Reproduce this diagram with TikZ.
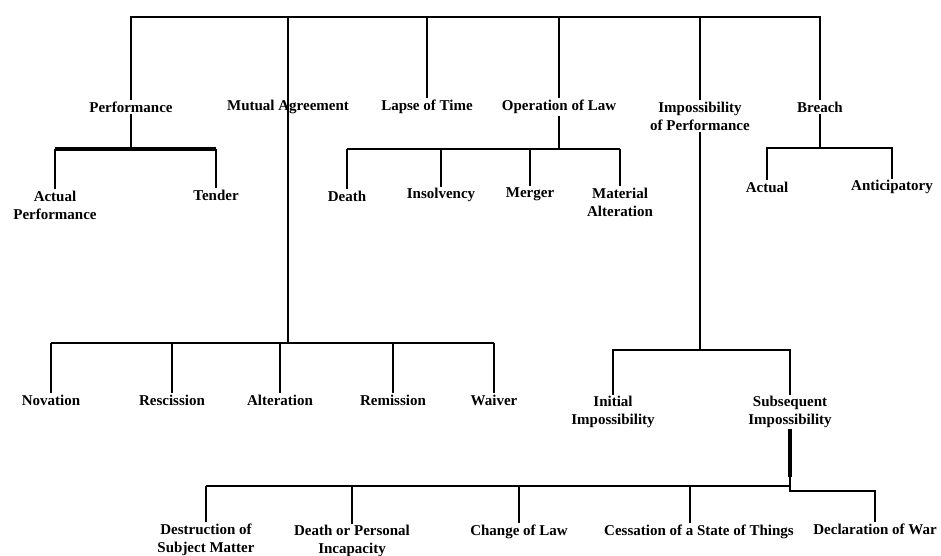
\documentclass[tikz,border=0pt]{standalone}
\usepackage{fontspec}
\setmainfont{Liberation Serif}
\begin{document}
\begin{tikzpicture}[x=1pt,y=-1pt,line width=1.3pt,
	lbl/.style={font=\fontsize{15}{18}\selectfont\bfseries,align=center,inner sep=1pt},
	heavy/.style={line width=3.2pt}]
	\useasboundingbox (0,0) rectangle (941,555);
	\node[lbl] (perf) at (131,107) {Performance};
	\node[lbl] (mutual) at (288,107) {Mutual Agreement};
	\node[lbl] (lapse) at (427,107) {Lapse of Time};
	\node[lbl] (oplaw) at (559,107) {Operation of Law};
	\node[lbl] (imposs) at (700,116) {Impossibility\\of Performance};
	\node[lbl] (breach) at (820,107) {Breach};
	\node[lbl] (actperf) at (55,205) {Actual\\Performance};
	\node[lbl] (tender) at (216,195) {Tender};
	\node[lbl] (novation) at (51,400) {Novation};
	\node[lbl] (rescission) at (172,400) {Rescission};
	\node[lbl] (alteration) at (280,400) {Alteration};
	\node[lbl] (remission) at (393,400) {Remission};
	\node[lbl] (waiver) at (494,400) {Waiver};
	\node[lbl] (death) at (347,196) {Death};
	\node[lbl] (insolvency) at (441,195) {Insolvency};
	\node[lbl] (merger) at (530,194) {Merger};
	\node[lbl] (matalt) at (620,202) {Material\\Alteration};
	\node[lbl] (actual) at (767,187) {Actual};
	\node[lbl] (anticip) at (892,187) {Anticipatory};
	\node[lbl] (initial) at (613,412) {Initial\\Impossibility};
	\node[lbl] (subs) at (790,412) {Subsequent\\Impossibility};
	\node[lbl] (destr) at (206,540) {Destruction of\\Subject Matter};
	\node[lbl] (deathpi) at (352,541) {Death or Personal\\Incapacity};
	\node[lbl] (change) at (519,532) {Change of Law};
	\node[lbl] (cess) at (699,532) {Cessation of a State of Things};
	\node[lbl] (declar) at (875,529) {Declaration of War};
	\coordinate (top) at (475,17);
	\coordinate (pbar) at (131,149);
	\coordinate (mbar) at (288,343);
	\coordinate (obar) at (559,149);
	\coordinate (bbar) at (820,148);
	\coordinate (ibar) at (700,350);
	\coordinate (sbar) at (790,486);
	\coordinate (cdrop) at ([xshift=-9pt]cess.north);
	\draw (perf.north) |- (top) -| (breach.north);
	\foreach \n in {lapse,oplaw,imposs}
	\draw (\n.north |- top) -- (\n.north);
	\draw (mutual.north |- top) -- (mbar);
	\draw (perf.south) -- (pbar);
	\draw[heavy] (actperf.north |- pbar) -- (tender.north |- pbar);
	\draw (actperf.north |- pbar) -- (actperf.north);
	\draw[line width=2pt] (tender.north |- pbar) -- (tender.north);
	\draw (novation.north |- mbar) -- (waiver.north |- mbar);
	\foreach \n in {novation,rescission,alteration,remission,waiver}
	\draw (\n.north |- mbar) -- (\n.north);
	\draw (oplaw.south) -- (obar);
	\draw (death.north |- obar) -- (matalt.north |- obar);
	\foreach \n in {death,insolvency,merger,matalt}
	\draw (\n.north |- obar) -- (\n.north);
	\draw (breach.south) -- (bbar);
	\draw (actual.north) |- (bbar) -| (anticip.north);
	\draw (imposs.south) -- (ibar);
	\draw (initial.north) |- (ibar) -| (subs.north);
	\draw[heavy] (subs.south) -- ([yshift=9pt]sbar);
	\draw ([yshift=9pt]sbar) -- (sbar);
	\draw (destr.north |- sbar) -- (sbar);
	\draw[line width=2.6pt] (destr.north |- sbar) -- (destr.north);
	\foreach \n in {deathpi,change}
	\draw (\n.north |- sbar) -- (\n.north);
	\draw (cdrop |- sbar) -- (cdrop);
	\draw (sbar) -- ++(0,5) -| (declar.north);
\end{tikzpicture}
\end{document}
